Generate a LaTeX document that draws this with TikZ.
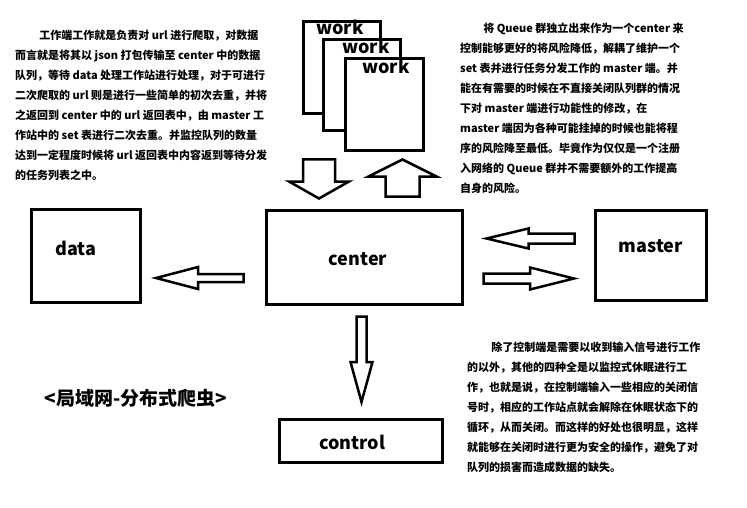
\documentclass[tikz,border=0pt]{standalone}
\usepackage{fontspec}
\newfontfamily\cjk{Noto Sans CJK SC}
\usetikzlibrary{calc}
\newcommand\fatarrow[5]{%
	\coordinate (fa) at ($#2!#5pt!#1$);
	\draw[blockarrow] ($#1!#3pt!90:#2$) -- ($(fa)!#3pt!90:#2$) -- ($(fa)!#4pt!90:#2$) -- #2
		-- ($(fa)!#4pt!-90:#2$) -- ($(fa)!#3pt!-90:#2$) -- ($#1!#3pt!-90:#2$) -- cycle;}
\begin{document}
\begin{tikzpicture}[x=1pt, y=-1pt,
	box/.style={draw, line width=3pt, rectangle, fill=white, inner sep=0pt},
	boxtext/.style={font=\cjk\bfseries\fontsize{18}{18}\selectfont, inner sep=0pt, anchor=base},
	para/.style={font=\cjk\bfseries\fontsize{11}{20}\selectfont, align=left, inner sep=0pt, anchor=north west},
	blockarrow/.style={draw, line width=2.5pt}]
	\useasboundingbox (0,0) rectangle (747,508);

	\node[box, minimum width=77pt, minimum height=92pt] (w1) at (342,67.5) {};
	\node[boxtext] (w1t) at (340,35) {work};
	\node[box, minimum width=77pt, minimum height=91pt] (w2) at (362,85) {};
	\node[boxtext] (w2t) at (366,53.3) {work};
	\node[box, minimum width=78pt, minimum height=92pt] (w3) at (384.5,104.5) {};
	\node[boxtext] (w3t) at (386,73.3) {work};

	\node[box, minimum width=109pt, minimum height=93pt] (data) at (86,256) {};
	\node[boxtext] (datat) at (76,255) {data};
	\node[box, minimum width=196pt, minimum height=94pt] (center) at (364.5,257.5) {};
	\node[boxtext] (centert) at (358,265) {center};
	\node[box, minimum width=111pt, minimum height=90pt] (master) at (651,255.5) {};
	\node[boxtext] (mastert) at (651,252.3) {master};
	\node[box, minimum width=163pt, minimum height=43pt] (control) at (361,441) {};
	\node[boxtext] (controlt) at (352,449) {control};

	\coordinate (c2d-a) at ([xshift=-21.5pt, yshift=-20.5pt]center.west);
	\coordinate (c2d-b) at ([xshift=14pt, yshift=-22pt]data.east);
	\coordinate (m2c-a) at ([xshift=-19.5pt, yshift=17pt]master.west);
	\coordinate (m2c-b) at ([xshift=22.5pt, yshift=19pt]center.east);
	\coordinate (c2m-a) at ([xshift=19.5pt, yshift=-21pt]center.east);
	\coordinate (c2m-b) at ([xshift=-20pt, yshift=-23pt]master.west);
	\coordinate (w2c-a) at ([xshift=-45.5pt, yshift=49.5pt]center.north);
	\coordinate (w2c-b) at ([xshift=-45.5pt, yshift=10.5pt]center.north);
	\coordinate (c2w-a) at ([xshift=38pt, yshift=12.5pt]center.north);
	\coordinate (c2w-b) at ([xshift=38pt, yshift=49.5pt]center.north);
	\coordinate (c2ctl-a) at ([xshift=-3pt, yshift=-10.5pt]center.south);
	\coordinate (c2ctl-b) at ([xshift=0.5pt, yshift=16pt]control.north);

	\fatarrow{(c2d-a)}{(c2d-b)}{4}{11}{42}
	\fatarrow{(m2c-a)}{(m2c-b)}{5}{10}{42}
	\fatarrow{(c2m-a)}{(c2m-b)}{5}{11}{44}
	\fatarrow{(w2c-a)}{(w2c-b)}{16}{30}{17}
	\fatarrow{(c2w-a)}{(c2w-b)}{17}{34}{17}
	\fatarrow{(c2ctl-a)}{(c2ctl-b)}{5}{11}{40}

	\node[font=\cjk\bfseries\fontsize{19}{19}\selectfont, inner sep=0pt] (title) at (136,398) {<局域网-分布式爬虫>};

	\node[para] (worknote) at (15,30) {\hspace*{2.2em}工作端工作就是负责对 url 进行爬取，对数据\\
		而言就是将其以 json 打包传输至 center 中的数据\\
		队列，等待 data 处理工作站进行处理，对于可进行\\
		二次爬取的 url 则是进行一些简单的初次去重，并将\\
		之返回到 center 中的 url 返回表中，由 master 工\\
		作站中的 set 表进行二次去重。并监控队列的数量\\
		达到一定程度时候将 url 返回表中内容返到等待分发\\
		的任务列表之中。};
	\node[para] (queuenote) at (460,23) {\hspace*{2.1em}将 Queue 群独立出来作为一个center 来\\
		控制能够更好的将风险降低，解耦了维护一个\\
		set 表并进行任务分发工作的 master 端。并\\
		能在有需要的时候在不直接关闭队列群的情况\\
		下对 master 端进行功能性的修改，在\\
		master 端因为各种可能挂掉的时候也能将程\\
		序的风险降至最低。毕竟作为仅仅是一个注册\\
		入网络的 Queue 群并不需要额外的工作提高\\
		自身的风险。};
	\node[para] (controlnote) at (467,342) {\hspace*{2.2em}除了控制端是需要以收到输入信号进行工作\\
		的以外，其他的四种全是以监控式休眠进行工\\
		作，也就是说，在控制端输入一些相应的关闭信\\
		号时，相应的工作站点就会解除在休眠状态下的\\
		循环，从而关闭。而这样的好处也很明显，这样\\
		就能够在关闭时进行更为安全的操作，避免了对\\
		队列的损害而造成数据的缺失。};
\end{tikzpicture}
\end{document}
